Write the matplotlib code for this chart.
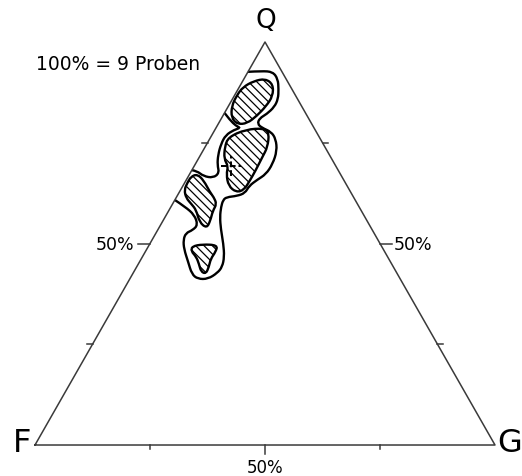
import matplotlib
matplotlib.use("Agg")
import matplotlib.pyplot as plt
from matplotlib.path import Path
from matplotlib.patches import PathPatch
import numpy as np

# ternary contour outlines as (Q %, G %); F = 100 - Q - G
outer_q = [92.6, 92.8, 92.6, 90.8, 88.3, 85.9, 83.9, 82.1, 81.1, 79.7, 78.7, 77.7, 75.9, 73.0,
           69.7, 67.2, 65.8, 64.3, 62.5, 61.8, 61.5, 60.8, 59.1, 56.6, 53.6, 49.9, 46.7, 44.2,
           42.7, 41.2, 41.2, 42.4, 45.4, 48.6, 50.9, 52.6, 53.3, 54.6, 57.1, 59.1, 60.8]
outer_g = [0.0, 2.9, 5.4, 7.4, 8.8, 9.9, 10.1, 9.3, 8.3, 8.5, 10.0, 12.5, 14.4, 16.1,
           16.8, 16.6, 15.4, 14.4, 14.4, 13.0, 10.9, 10.5, 10.9, 11.9, 13.6, 16.0, 17.8, 18.6,
           18.3, 17.0, 14.8, 12.9, 10.6, 8.1, 6.8, 6.5, 7.6, 8.1, 6.1, 3.1, 0.0]

notch_q = [82.4, 80.6, 79.2, 78.7, 78.2, 76.9, 74.7, 72.0, 69.5, 67.5, 66.3, 66.7, 68.0, 68.2]
notch_g = [0.0, 2.1, 4.1, 5.3, 4.2, 3.0, 3.1, 3.8, 4.9, 6.3, 5.6, 3.3, 1.2, 0.0]

top_q = [88.8, 90.3, 90.9, 89.5, 86.6, 84.1, 81.7, 79.8, 79.6, 81.2, 84.1, 86.8]
top_g = [0.8, 2.4, 4.6, 7.0, 8.4, 8.2, 7.4, 6.2, 4.2, 2.1, 0.7, 0.5]

mid_q = [76.4, 78.3, 78.6, 77.4, 73.9, 71.5, 68.0, 65.5, 63.3, 62.7, 64.3, 67.2, 69.2, 71.0, 73.9]
mid_g = [3.8, 6.7, 10.5, 12.2, 13.6, 13.7, 13.9, 13.9, 13.8, 12.4, 9.9, 8.0, 7.4, 5.6, 4.3]

left_q = [66.6, 67.2, 65.6, 62.8, 61.5, 59.8, 58.1, 55.6, 53.8, 55.3, 58.3, 59.8, 61.3, 63.3, 65.0]
left_g = [0.6, 1.7, 3.9, 6.6, 8.1, 9.6, 9.6, 10.3, 10.4, 8.1, 5.9, 4.1, 2.2, 0.8, 0.6]

bot_q = [49.3, 49.8, 49.6, 47.9, 46.2, 44.2, 42.5, 43.0, 44.9, 46.7, 48.1]
bot_g = [9.5, 11.5, 14.9, 15.3, 15.1, 15.7, 15.9, 14.6, 13.2, 11.7, 9.9]

mean_q, mean_g = 69.2, 8.0

tick_values = [25, 50, 75]
corner_labels = ["Q", "F", "G"]
sample_note = "100% = 9 Proben"


def tern(q, g):
    q = np.asarray(q, float)
    g = np.asarray(g, float)
    return np.column_stack([g + q / 2.0, q])


def closed_path(pts):
    n = len(pts)
    mids = [(pts[i] + pts[(i + 1) % n]) / 2 for i in range(n)]
    verts = [mids[-1]]
    codes = [Path.MOVETO]
    for i in range(n):
        verts += [pts[i], mids[i]]
        codes += [Path.CURVE3, Path.CURVE3]
    return Path(verts, codes)


def open_path(pts):
    n = len(pts)
    verts = [pts[0]]
    codes = [Path.MOVETO]
    for i in range(1, n - 2):
        verts += [pts[i], (pts[i] + pts[i + 1]) / 2]
        codes += [Path.CURVE3, Path.CURVE3]
    verts += [pts[n - 2], pts[n - 1]]
    codes += [Path.CURVE3, Path.CURVE3]
    return Path(verts, codes)


plt.rcParams['hatch.linewidth'] = 0.9
plt.rcParams['hatch.color'] = 'black'

fig = plt.figure(figsize=(5.22, 4.77), dpi=100)
ax = fig.add_axes([0, 0, 1, 1])
ax.set_xlim(-7.61, 105.87)
ax.set_ylim(-7.69, 110.67)
ax.axis('off')

# triangle frame
tri = tern([0, 0, 100, 0], [0, 100, 0, 0])
ax.plot(tri[:, 0], tri[:, 1], color='#3a3a3a', lw=1.1)

# edge ticks
for t in tick_values:
    ln = 2.6 if t == 50 else 1.1
    lp = tern([t], [0])[0]
    ax.plot([lp[0] - ln, lp[0]], [lp[1], lp[1]], color='#3a3a3a', lw=1.1)
    rp = tern([t], [100 - t])[0]
    ax.plot([rp[0], rp[0] + ln], [rp[1], rp[1]], color='#3a3a3a', lw=1.1)
    bp = tern([0], [t])[0]
    ax.plot([bp[0], bp[0]], [bp[1], bp[1] - ln * 0.85], color='#3a3a3a', lw=1.1)

# contour lines of the lowest level
ax.add_patch(PathPatch(open_path(tern(outer_q, outer_g)), fc='none', ec='black', lw=1.7))
ax.add_patch(PathPatch(open_path(tern(notch_q, notch_g)), fc='none', ec='black', lw=1.7))

# hatched high-density cores
for q, g in [(top_q, top_g), (mid_q, mid_g), (left_q, left_g), (bot_q, bot_g)]:
    ax.add_patch(PathPatch(closed_path(tern(q, g)), fc='white', ec='black',
                           lw=1.7, hatch='\\\\\\\\'))

# mean point
mp = tern([mean_q], [mean_g])[0]
ax.plot([mp[0] - 2.2, mp[0] + 2.2], [mp[1], mp[1]], color='black', lw=1.4, ls=(0, (3, 1.5)))
ax.plot([mp[0], mp[0]], [mp[1] - 2.5, mp[1] + 2.5], color='black', lw=1.4, ls=(0, (3, 1.5)))

# corner labels
corners = tern([100, 0, 0], [0, 0, 100])
ax.annotate(corner_labels[0], corners[0], xytext=(1, 22), textcoords='offset pixels',
            ha='center', va='center', fontsize=19)
ax.annotate(corner_labels[1], corners[1], xytext=(-13, 3), textcoords='offset pixels',
            ha='center', va='center', fontsize=23)
ax.annotate(corner_labels[2], corners[2], xytext=(15, 3), textcoords='offset pixels',
            ha='center', va='center', fontsize=23)

# 50 % labels
lp = tern([50], [0])[0]
ax.annotate("50%", lp, xytext=(-16, 0), textcoords='offset pixels', ha='right', va='center', fontsize=12.5)
rp = tern([50], [50])[0]
ax.annotate("50%", rp, xytext=(14, 0), textcoords='offset pixels', ha='left', va='center', fontsize=12.5)
bp = tern([0], [50])[0]
ax.annotate("50%", bp, xytext=(0, -22), textcoords='offset pixels', ha='center', va='center', fontsize=12)

ax.text(36 / 522, 1 - 65 / 477, sample_note, transform=ax.transAxes, ha='left', va='center', fontsize=13.5)

fig.savefig("out.png", dpi=100)
